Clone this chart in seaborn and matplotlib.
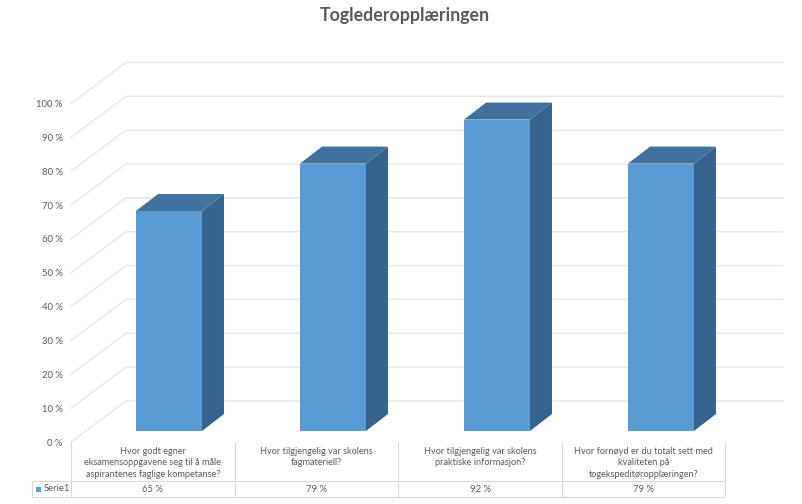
import matplotlib
matplotlib.use("Agg")
import matplotlib.pyplot as plt
from matplotlib.patches import Polygon, Rectangle
import pandas as pd
import seaborn as sns

title = "Toglederopplæringen"
questions = [
    "Hvor godt egner\neksamensoppgavene seg til å måle\naspirantenes faglige kompetanse?",
    "Hvor tilgjengelig var skolens\nfagmateriell?",
    "Hvor tilgjengelig var skolens\npraktiske informasjon?",
    "Hvor fornøyd er du totalt sett med\nkvaliteten på\ntogekspeditøropplæringen?",
]
values = [65, 79, 92, 79]
series_name = "Serie1"
y_ticks = list(range(0, 101, 10))

W, H = 802, 504
FRONT, SIDE, TOP = "#5B9BD5", "#37628C", "#41719F"
GRID, TABLE, TEXT = "#E6E6E6", "#D9D9D9", "#595959"

sns.set_theme(style="white")
plt.rcParams["font.family"] = ["Lato", "DejaVu Sans"]

fig = plt.figure(figsize=(W / 100, H / 100), dpi=100, facecolor="white")

# pixel-space layer for chart furniture (walls, table frame)
bg = fig.add_axes([0, 0, 1, 1], zorder=0)
bg.set_xlim(0, W)
bg.set_ylim(H, 0)
bg.axis("off")

def rect(l, t, r, b):
    return [l / W, 1 - b / H, (r - l) / W, (b - t) / H]

# value axis on the front plane, only carries the tick labels
tick_ax = fig.add_axes(rect(71, 103.5, 72, 442), zorder=1)
tick_ax.set_ylim(0, 100)
tick_ax.set_xticks([])
tick_ax.set_yticks(y_ticks)
tick_ax.set_yticklabels([f"{v} %" for v in y_ticks], color=TEXT, fontsize=6.8)
tick_ax.tick_params(axis="y", length=0, pad=6)
tick_ax.patch.set_alpha(0)
sns.despine(ax=tick_ax, left=True, bottom=True)

# bar axes: floor of the bars
L, R, B, T = 87, 743, 431, 92.5
ax = fig.add_axes(rect(L, T, R, B), zorder=2)
df = pd.DataFrame({"question": questions, "value": values})
sns.barplot(data=df, x="question", y="value", color=FRONT, saturation=1, width=0.402,
            edgecolor="none", linewidth=0, ax=ax)
ax.set_ylim(0, 100)
ax.set_xlim(-0.5, 3.5)
ax.axis("off")
ax.patch.set_alpha(0)

sx = 4 / (R - L)
sy = 100 / (B - T)
dx, dy = 22 * sx, 17 * sy
for bar in ax.patches[:len(values)]:
    x0, w, h = bar.get_x(), bar.get_width(), bar.get_height()
    x1 = x0 + w
    ax.add_patch(Polygon([(x1, 0), (x1 + dx, dy), (x1 + dx, h + dy), (x1, h)],
                         facecolor=SIDE, edgecolor="none", clip_on=False))
    ax.add_patch(Polygon([(x0, h), (x0 + dx, h + dy), (x1 + dx, h + dy), (x1, h)],
                         facecolor=TOP, edgecolor="none", clip_on=False))

# walls drawn from the tick values
px = 3.385
for v in y_ticks:
    yf = 442 - v * px
    yb = 401 - v * px
    bg.plot([71, 126, 783], [yf, yb, yb], color=GRID, lw=1.0, solid_joinstyle="miter")

# data table
for x in [71, 234.5, 398, 562, 725]:
    bg.plot([x, x], [442, 497], color=TABLE, lw=0.8)
bg.plot([32, 32], [481, 497], color=TABLE, lw=0.8)
for y in [481, 497]:
    bg.plot([32, 725], [y, y], color=TABLE, lw=0.8)

centers = [152.75, 316.25, 480, 643.5]
for c, q, v in zip(centers, questions, values):
    bg.text(c, 446.5, q, ha="center", va="top", color=TEXT, fontsize=6.6, linespacing=1.42)
    bg.text(c, 489.5, f"{v} %", ha="center", va="center", color=TEXT, fontsize=6.8)

bg.add_patch(Rectangle((36, 487), 5, 5, facecolor=FRONT, edgecolor="none"))
bg.text(43.5, 488.5, series_name, ha="left", va="center", color=TEXT, fontsize=6.8)

bg.text(404.5, 16, title, ha="center", va="center", color=TEXT, fontsize=12.8, fontweight="bold")

fig.savefig("out.png", dpi=100, facecolor="white")
